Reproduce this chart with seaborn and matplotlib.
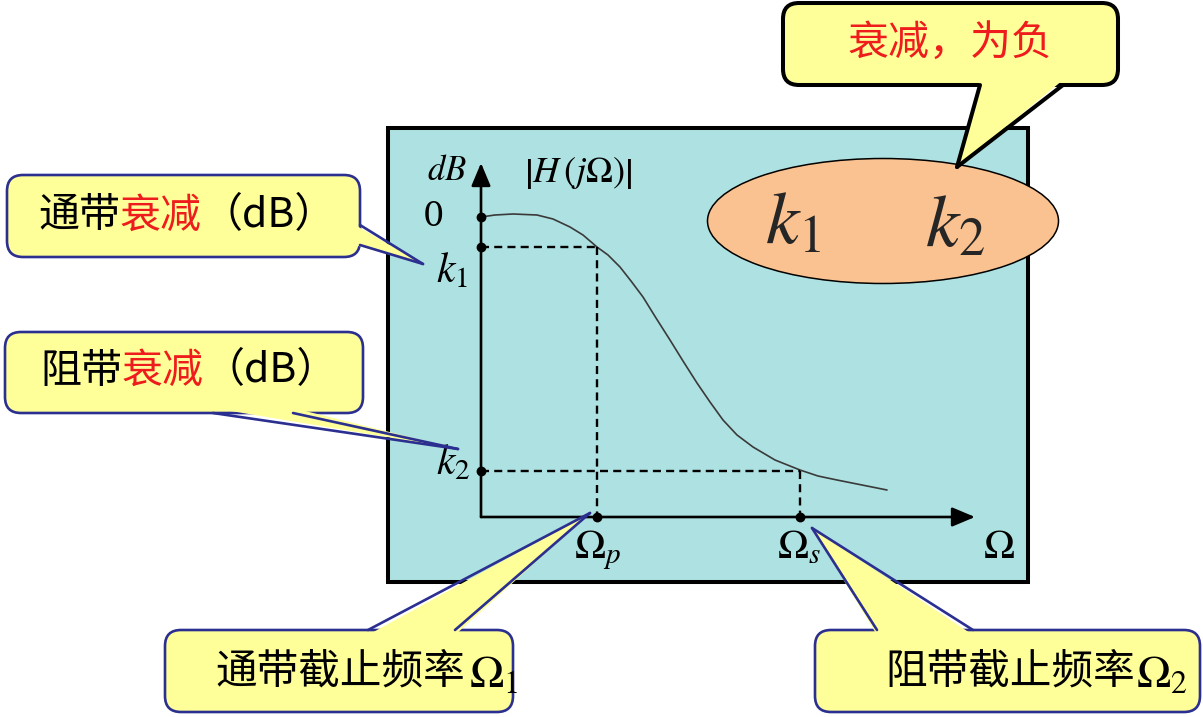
import matplotlib
matplotlib.use("Agg")
import matplotlib.pyplot as plt
from matplotlib.patches import FancyBboxPatch, Rectangle, Ellipse, Polygon
import seaborn as sns

# attenuation curve |H(jΩ)| in dB
omega = [0, 0.14, 0.32, 0.56, 0.72, 0.89, 1.02, 1.16, 1.27, 1.39, 1.50, 1.62, 1.75,
         1.89, 2.02, 2.16, 2.29, 2.42, 2.56, 2.72, 2.94, 3.19, 3.37, 3.56, 3.81, 4.06]
gain_db = [0, 0.2, 0.3, 0.2, -0.2, -1.0, -1.8, -3.0, -3.8, -5.0, -6.4, -8.0, -10.1,
           -12.3, -14.4, -16.6, -18.5, -20.3, -21.8, -23.0, -24.3, -25.3, -25.9, -26.3, -26.8, -27.3]

k1 = -3.0
k2 = -25.4
omega_p = 1.16
omega_s = 3.19
x_end = 4.94
y_floor = -30.0
y_top = 5.4

YELLOW = "#ffff99"
NAVY = "#2b2f8f"
CYAN = "#aee1e1"
PEACH = "#fac290"
RED = "#ee1c1c"

sns.set_style("white")
plt.rcParams["font.family"] = ["Noto Sans CJK SC", "DejaVu Sans"]
plt.rcParams["mathtext.fontset"] = "stix"

W, H = 1203, 717
fig = plt.figure(figsize=(W / 100, H / 100), dpi=100)

# background layer in pixel units
bg = fig.add_axes([0, 0, 1, 1])
bg.set_xlim(0, W)
bg.set_ylim(H, 0)
bg.set_axis_off()
bg.add_patch(Rectangle((388, 128), 640, 454, fc=CYAN, ec="black", lw=2.9))

# the plot itself
ax = fig.add_axes([481 / W, (H - 517) / H, (975 - 481) / W, (517 - 163) / H])
ax.set_xlim(0, x_end)
ax.set_ylim(y_floor, y_top)
ax.set_axis_off()

sns.lineplot(x=omega, y=gain_db, ax=ax, color="#3a3a3a", linewidth=1.2)

dash = dict(color="black", lw=1.7, ls=(0, (3.4, 2.2)))
ax.plot([0, omega_p], [k1, k1], **dash)
ax.plot([omega_p, omega_p], [k1, y_floor], **dash)
ax.plot([0, omega_s], [k2, k2], **dash)
ax.plot([omega_s, omega_s], [k2, y_floor], **dash)

arrow = dict(arrowstyle="-|>,head_length=1.0,head_width=0.42", color="black",
             lw=1.9, shrinkA=0, shrinkB=0, mutation_scale=14)
ax.annotate("", xy=(x_end, y_floor), xytext=(0, y_floor), arrowprops=arrow,
            annotation_clip=False)
ax.annotate("", xy=(0, y_top), xytext=(0, y_floor), arrowprops=arrow,
            annotation_clip=False)

sns.scatterplot(x=[0, 0, 0, omega_p, omega_s], y=[0, k1, k2, y_floor, y_floor],
                ax=ax, color="black", s=50, edgecolor="black", linewidth=0,
                clip_on=False, zorder=5)

lab = dict(color="black", clip_on=False)
ax.text(-0.48, 0, "0", fontsize=24, ha="center", va="center", family="DejaVu Serif", **lab)
ax.text(-0.45, -6.5, "$k_1$", fontsize=30, ha="left", va="baseline", **lab)
ax.text(-0.45, -25.7, "$k_2$", fontsize=30, ha="left", va="baseline", **lab)
ax.text(-0.34, 4.7, "$dB$", fontsize=25, ha="center", va="center", **lab)
ax.text(0.97, 4.4, r"$\left|H\,(j\Omega)\right|$", fontsize=26, ha="center", va="center", **lab)
ax.text(0.93, -34.1, r"$\Omega_p$", fontsize=30, ha="left", va="baseline", **lab)
ax.text(2.96, -34.1, r"$\Omega_s$", fontsize=30, ha="left", va="baseline", **lab)
ax.text(5.02, -34.1, r"$\Omega$", fontsize=30, ha="left", va="baseline", **lab)

# callouts on top, pixel units again
fg = fig.add_axes([0, 0, 1, 1])
fg.set_xlim(0, W)
fg.set_ylim(H, 0)
fg.set_axis_off()
fg.patch.set_alpha(0)

fg.add_patch(Ellipse((883, 221), 351, 125, fc=PEACH, ec="black", lw=1.1, zorder=2))
fg.text(765, 243, "$k_1$", fontsize=54, ha="left", va="baseline", zorder=6)
fg.text(925, 246, "$k_2$", fontsize=54, ha="left", va="baseline", zorder=6)


def bubble(box, base_a, base_b, tip, inset, edge, lw):
    x0, y0, x1, y1 = box
    fg.add_patch(FancyBboxPatch((x0, y0), x1 - x0, y1 - y0,
                                boxstyle="round,pad=0,rounding_size=16",
                                fc=YELLOW, ec=edge, lw=lw, zorder=3))
    dx, dy = inset
    fill = [(base_a[0] + dx, base_a[1] + dy), tip, (base_b[0] + dx, base_b[1] + dy)]
    fg.add_patch(Polygon(fill, closed=True, fc=YELLOW, ec="none", zorder=4))
    for b in (base_a, base_b):
        fg.plot([b[0], tip[0]], [b[1], tip[1]], color=edge, lw=lw,
                solid_capstyle="round", zorder=5)


bubble((783, 3, 1118, 85), (980, 85), (1063, 85), (957, 167), (0, -5), "black", 2.9)
bubble((7, 175, 360, 257), (360, 225), (360, 245), (423, 264), (-5, 0), NAVY, 1.9)
bubble((5, 332, 363, 413), (213, 413), (293, 413), (458, 449), (0, -5), NAVY, 1.9)
bubble((165, 630, 513, 712), (368, 630), (455, 630), (590, 513), (0, 5), NAVY, 1.9)
bubble((815, 630, 1200, 712), (877, 630), (973, 630), (812, 528), (0, 5), NAVY, 1.9)

cj = dict(fontsize=29.5, va="center", ha="left", zorder=6)
fg.text(950, 43, "衰减，为负", color=RED, fontsize=29.5, ha="center", va="center", zorder=6)

fg.text(38, 216, "通带", color="black", **cj)
fg.text(120, 216, "衰减", color=RED, **cj)
fg.text(202, 216, "（dB）", color="black", **cj)

fg.text(40, 371, "阻带", color="black", **cj)
fg.text(122, 371, "衰减", color=RED, **cj)
fg.text(204, 371, "（dB）", color="black", **cj)

fg.text(215, 672, "通带截止频率", color="black", fontsize=30, ha="left", va="center", zorder=6)
fg.text(469, 687, r"$\Omega_1$", color="black", fontsize=33, ha="left", va="baseline", zorder=6)
fg.text(885, 672, "阻带截止频率", color="black", fontsize=30, ha="left", va="center", zorder=6)
fg.text(1136, 687, r"$\Omega_2$", color="black", fontsize=33, ha="left", va="baseline", zorder=6)

fig.savefig("out.png", dpi=100)
